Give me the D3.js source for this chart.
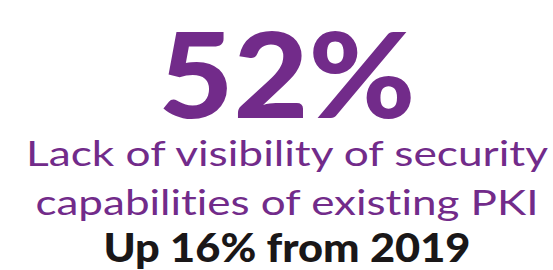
<!DOCTYPE html>
<html>
<head>
<meta charset="utf-8">
<script src="https://cdn.jsdelivr.net/npm/d3@7"></script>
<style>
  body { margin: 0; background: #fff; }
  svg { display: block; }
  text { font-variant-ligatures: none; font-feature-settings: "liga" 0; }
</style>
</head>
<body>
<div id="chart"></div>
<script>
// Data
const statValue = 52;
const labelLines = ['Lack of visibility of security', 'capabilities of existing PKI'];
const changeValue = 16;
const baseYear = 2019;

const width = 553, height = 270;
const cx = 287;
const purple = '#722b8a';

const svg = d3.select('#chart').append('svg')
  .attr('width', width)
  .attr('height', height);

// Big number
svg.append('text')
  .attr('x', cx)
  .attr('y', 118)
  .attr('text-anchor', 'middle')
  .attr('textLength', 257)
  .attr('lengthAdjust', 'spacingAndGlyphs')
  .style('font-family', 'Lato, sans-serif')
  .style('font-weight', 900)
  .style('font-size', '118px')
  .style('fill', purple)
  .text(`${statValue}%`);

// Label lines
const lineY = d3.scalePoint().domain(labelLines).range([166, 215]);
const lineW = [522, 503];

svg.selectAll('.label')
  .data(labelLines)
  .enter().append('text')
  .attr('class', 'label')
  .attr('x', cx)
  .attr('y', d => lineY(d))
  .attr('text-anchor', 'middle')
  .attr('textLength', (d, i) => lineW[i])
  .attr('lengthAdjust', 'spacingAndGlyphs')
  .style('font-family', 'Lato, sans-serif')
  .style('font-weight', 400)
  .style('font-size', '34px')
  .style('fill', purple)
  .text(d => d);

// Change line
svg.append('text')
  .attr('x', cx)
  .attr('y', 262)
  .attr('text-anchor', 'middle')
  .attr('textLength', 367)
  .attr('lengthAdjust', 'spacingAndGlyphs')
  .style('font-family', 'Lato, sans-serif')
  .style('font-weight', 900)
  .style('font-size', '40px')
  .style('fill', '#1a1718')
  .text(`Up ${changeValue}% from ${baseYear}`);
</script>
</body>
</html>
